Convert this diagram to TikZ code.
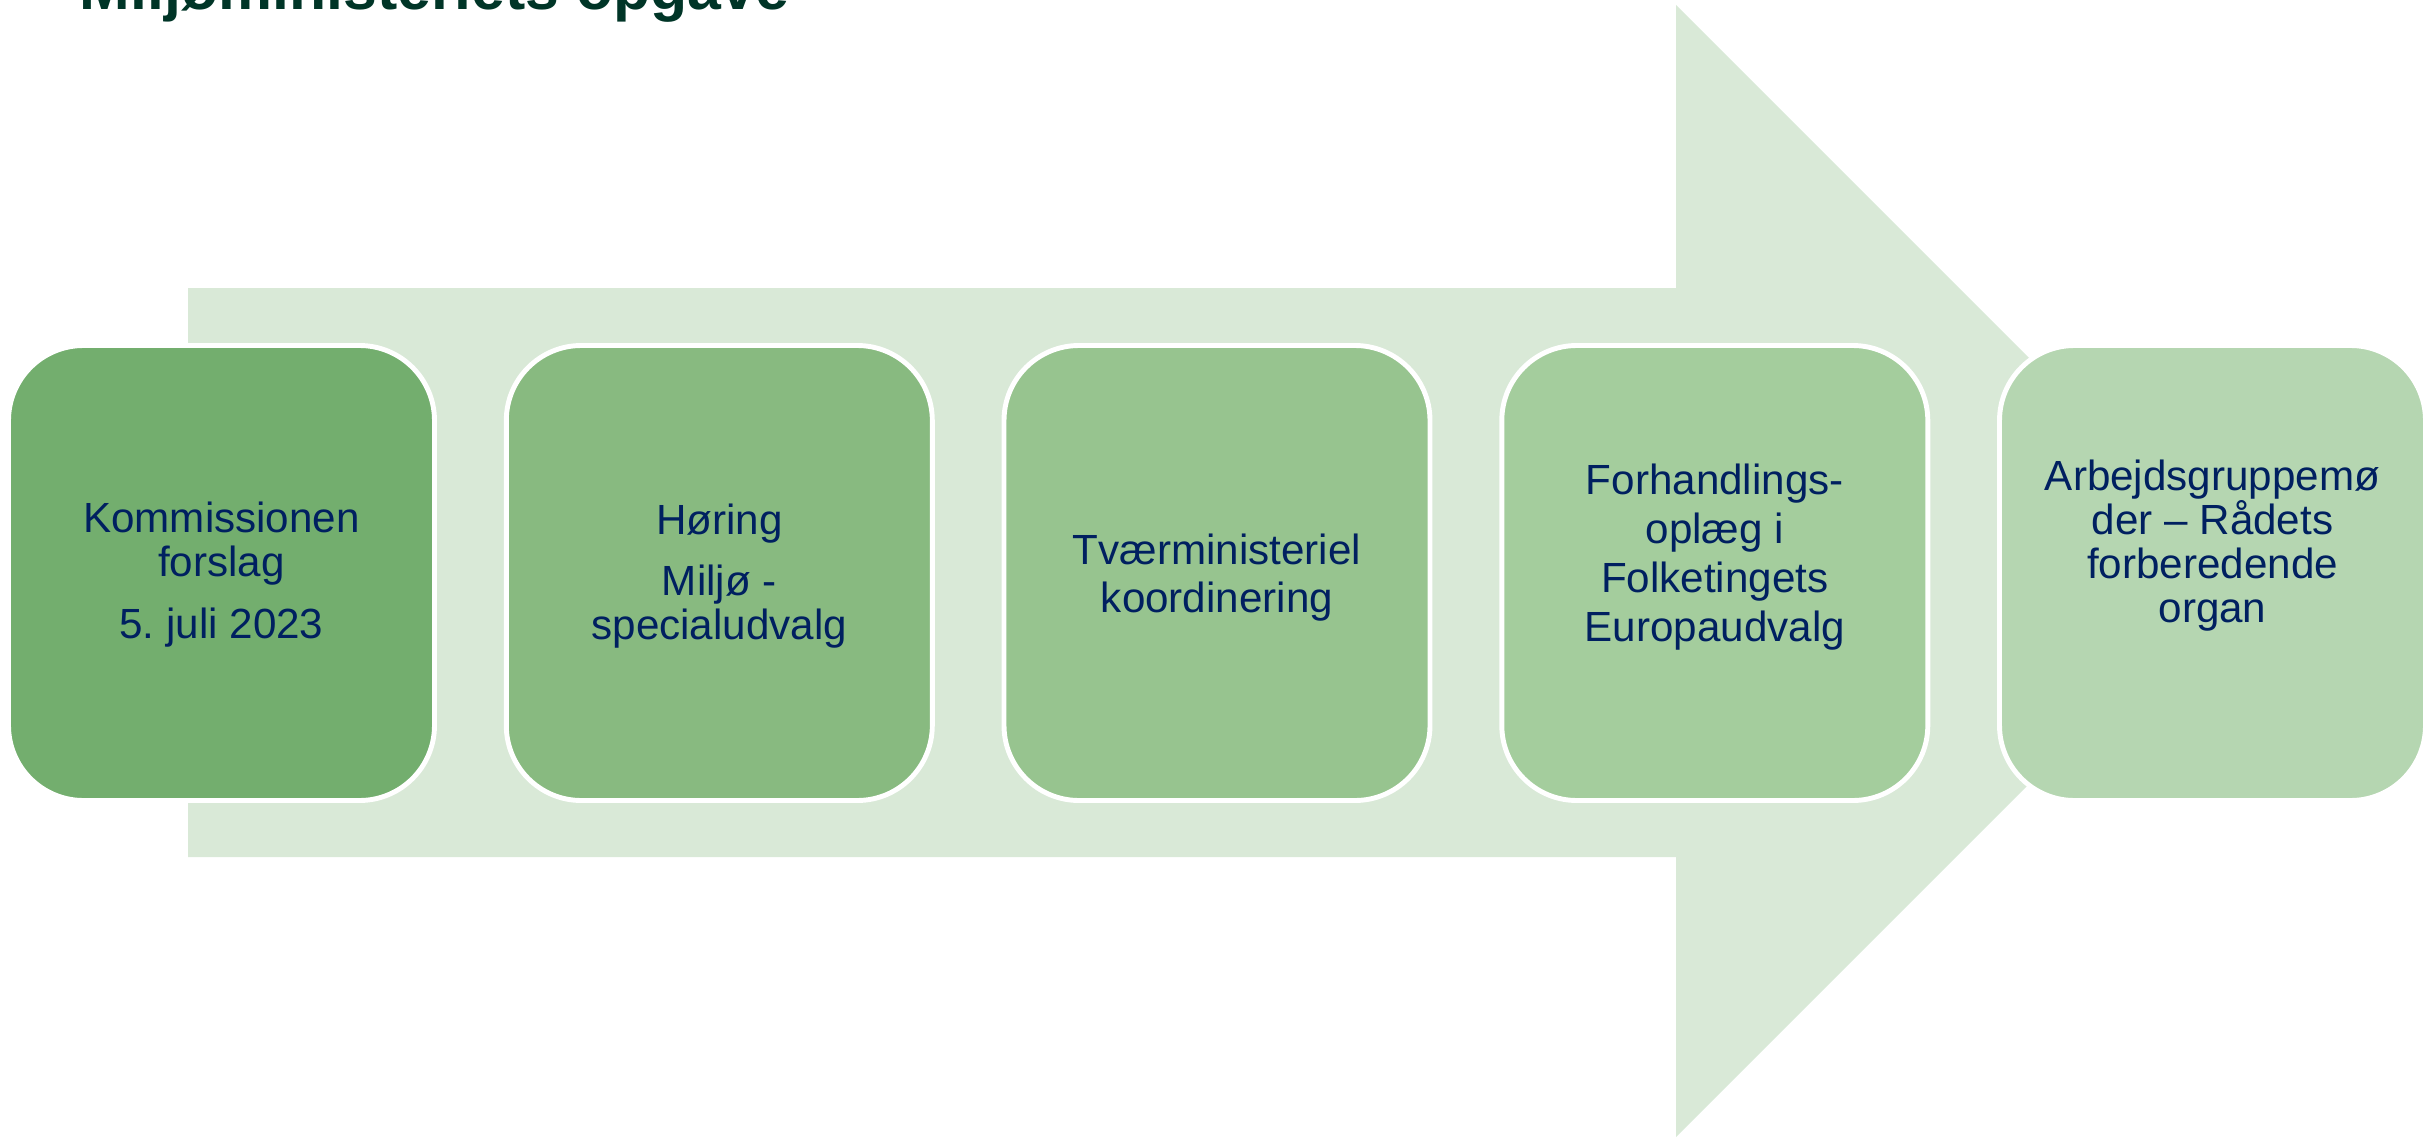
\documentclass[tikz,border=0pt]{standalone}
\usepackage{fontspec}
\setmainfont{Liberation Sans}
\usepackage{tikz}
\usepackage{xcolor}
\frenchspacing

\definecolor{arrowgreen}{HTML}{D9E9D7}
\definecolor{stepone}{HTML}{73AE6E}
\definecolor{steptwo}{HTML}{88BA80}
\definecolor{stepthree}{HTML}{97C48F}
\definecolor{stepfour}{HTML}{A4CD9D}
\definecolor{stepfive}{HTML}{B5D6B1}
\definecolor{textblue}{HTML}{002060}
\definecolor{titlegreen}{HTML}{003527}

\begin{document}
\begin{tikzpicture}[
  stepbox/.style={draw=white, line width=1.4pt, rounded corners=0.75cm,
    minimum width=4.26cm, minimum height=4.55cm},
  steptext/.style={text=textblue, align=center, anchor=base}
]
\useasboundingbox (0,0) rectangle (24.33,11.39);

% big arrow behind the steps
\fill[arrowgreen] (1.88,2.82) -- (1.88,8.51) -- (16.76,8.51) -- (16.76,11.34)
  -- (22.42,5.68) -- (16.76,0.02) -- (16.76,2.82) -- cycle;

\node[anchor=base west, inner sep=0pt, text=titlegreen, font=\bfseries\fontsize{17.3}{20}\selectfont] (title) at (0.79,11.297)
  {Miljøministeriets opgave};

\node[stepbox, fill=stepone] (b1) at (2.215,5.66) {};
\node[stepbox, fill=steptwo] (b2) at (7.193,5.66) {};
\node[stepbox, fill=stepthree] (b3) at (12.17,5.66) {};
\node[stepbox, fill=stepfour] (b4) at (17.148,5.66) {};
\node[stepbox, fill=stepfive] (b5) at (22.125,5.66) {};

% base = last line of each label
\node[steptext, font=\fontsize{12}{12.5}\selectfont] (t1) at ([yshift=-0.65cm]b1.center)
  {Kommissionen\\forslag\\[4.9pt]5. juli 2023};
\node[steptext, font=\fontsize{12}{12.3}\selectfont] (t2) at ([yshift=-0.66cm]b2.center)
  {Høring\\[5pt]Miljø -\\specialudvalg};
\node[steptext, font=\fontsize{12}{13.6}\selectfont] (t3) at ([yshift=-0.39cm]b3.center)
  {Tværministeriel\\koordinering};
\node[steptext, font=\fontsize{12}{13.9}\selectfont] (t4) at ([yshift=-0.68cm]b4.center)
  {Forhandlings-\\oplæg i\\Folketingets\\Europaudvalg};
\node[steptext, font=\fontsize{12}{12.5}\selectfont] (t5) at ([yshift=-0.49cm]b5.center)
  {Arbejdsgruppemø\\der – Rådets\\forberedende\\organ};

\end{tikzpicture}
\end{document}
